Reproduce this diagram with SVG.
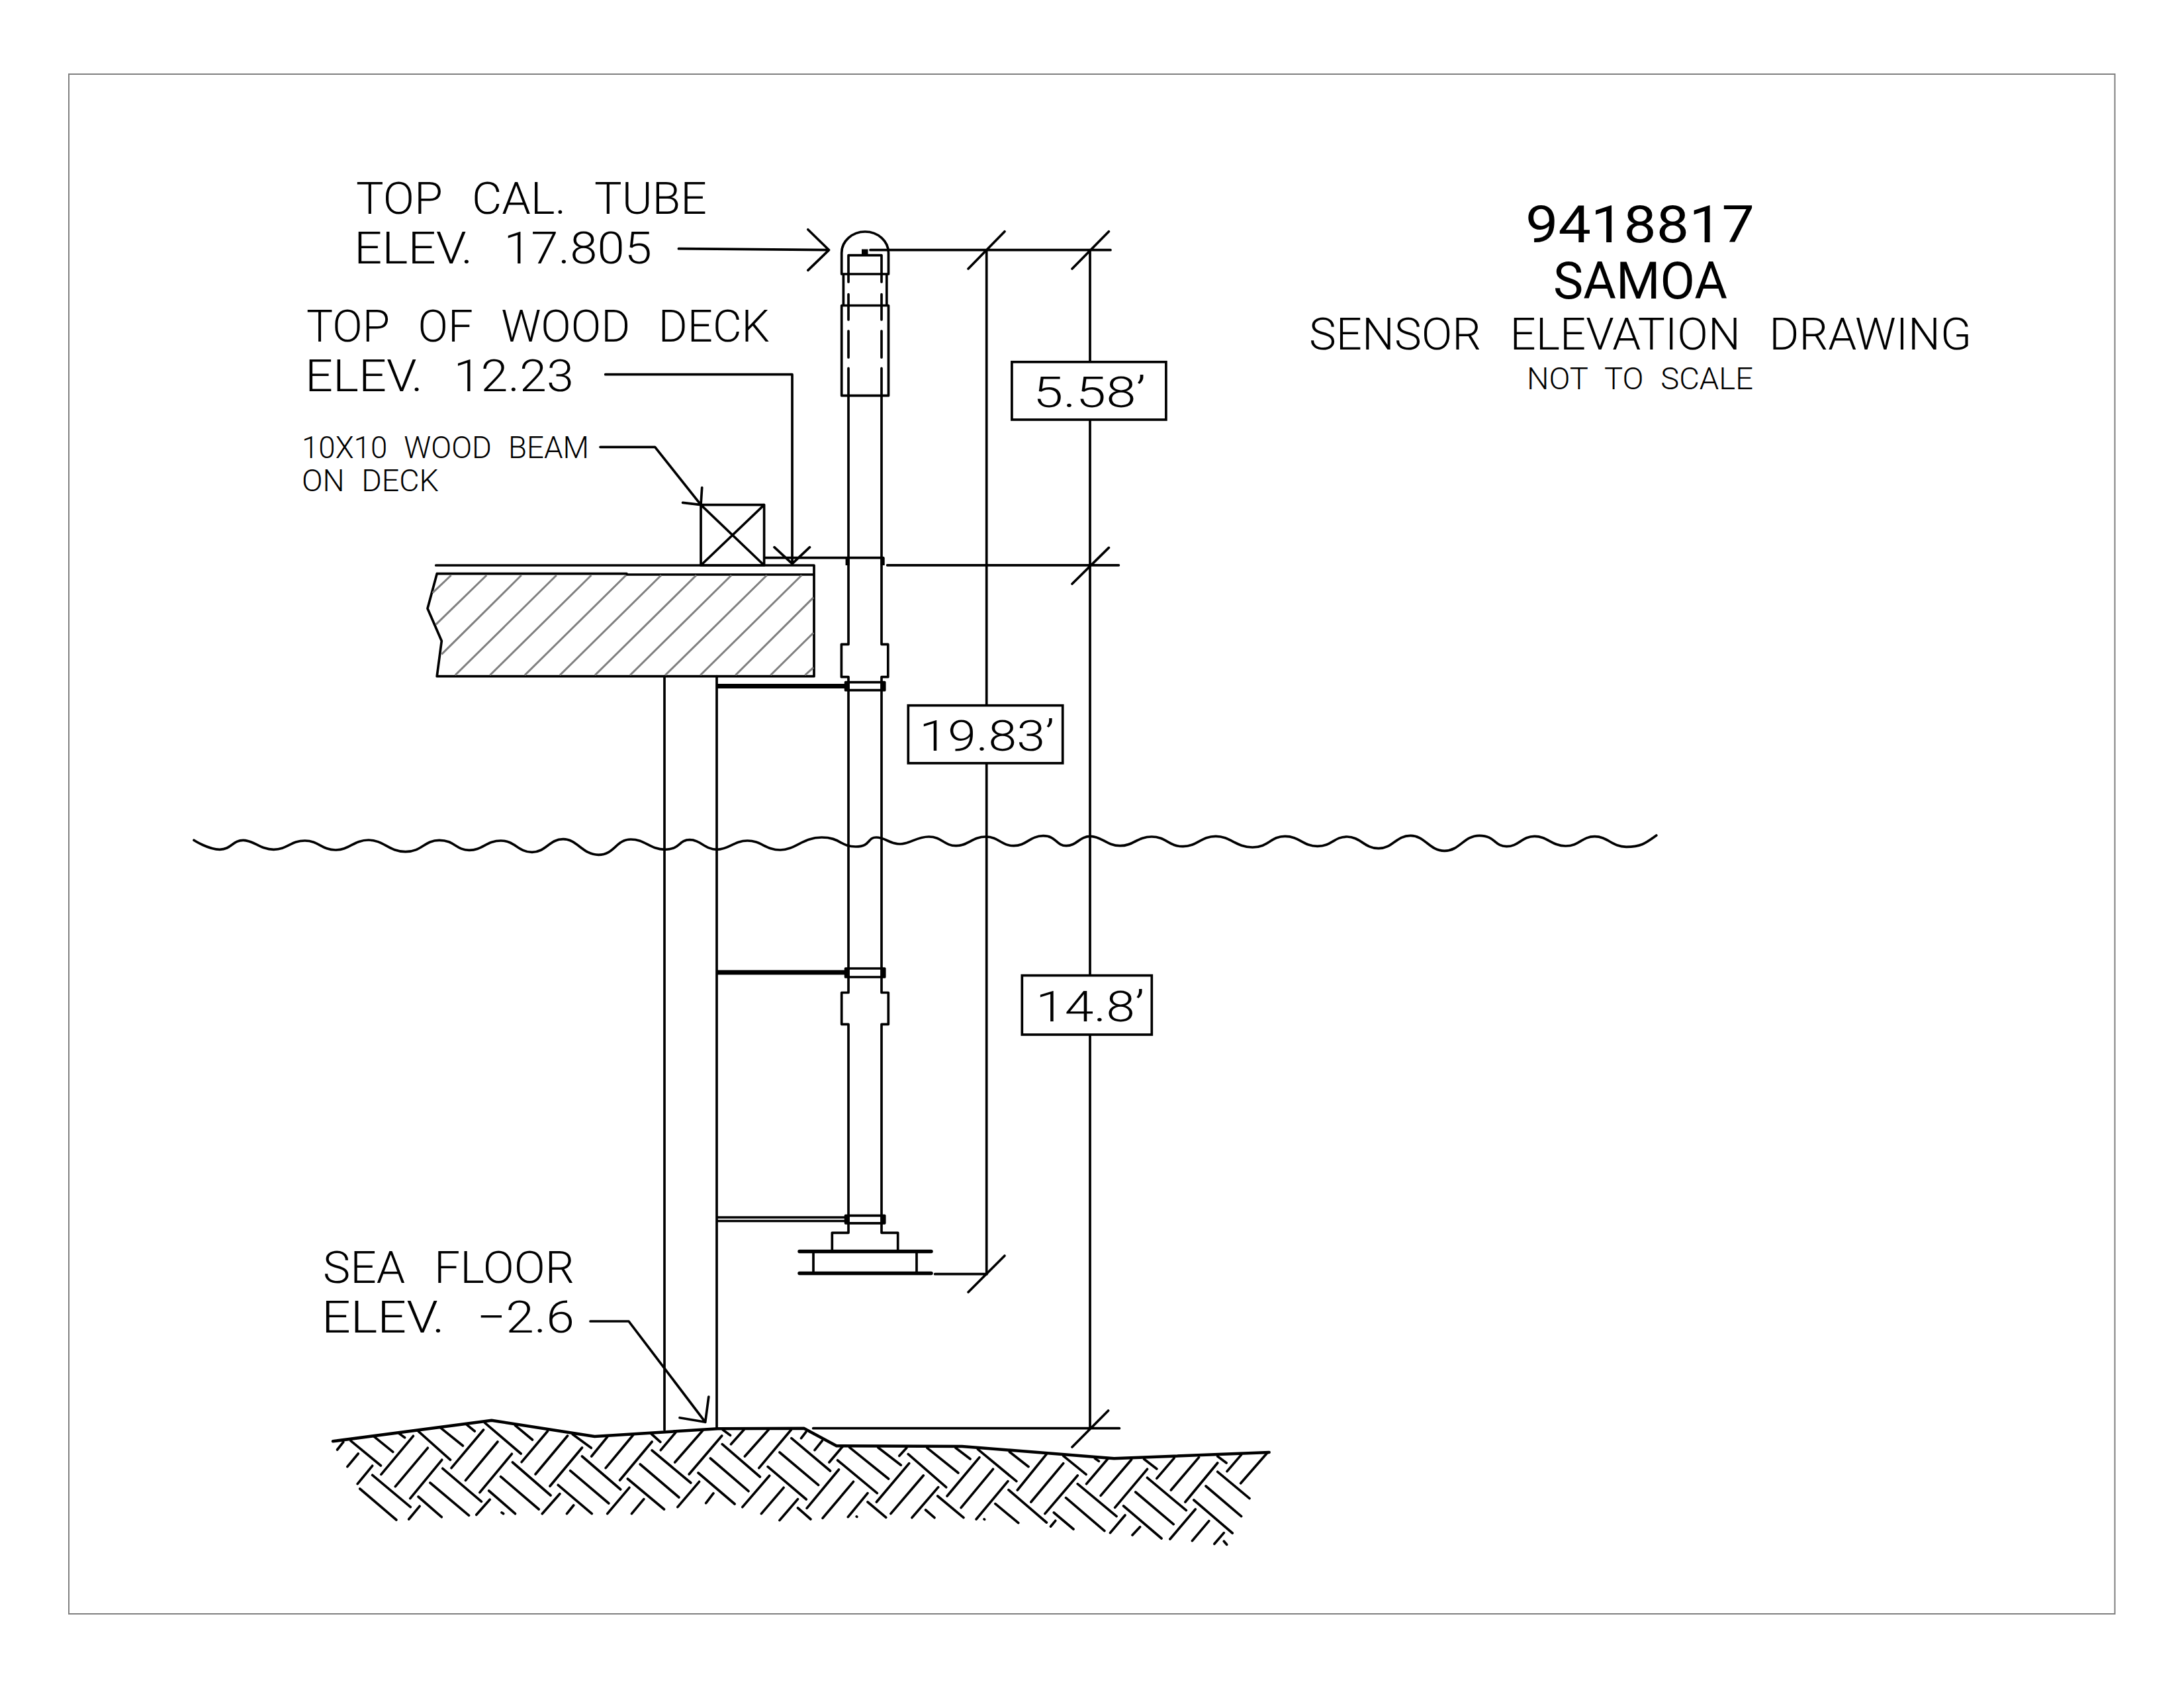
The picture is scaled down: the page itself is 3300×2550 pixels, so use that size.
<svg xmlns="http://www.w3.org/2000/svg" width="3300" height="2550" viewBox="0 0 3300 2550">
<style>
.l{fill:none;stroke:#000;stroke-width:3.700;stroke-linecap:round;stroke-linejoin:round}
.h{fill:none;stroke:#000;stroke-width:3.700;stroke-linecap:round;vector-effect:non-scaling-stroke}
.g{fill:none;stroke:#808080;stroke-width:3;vector-effect:non-scaling-stroke}
.k{fill:#000;stroke:none}
.box{fill:#fff;stroke:#000;stroke-width:3.700}
text{font-family:"Roboto","Liberation Sans",sans-serif;font-weight:300;fill:#000}
.a{font-size:67px;word-spacing:26px}
.b{font-size:46px;word-spacing:14px}
.c{font-size:65px}
.t{font-size:78px;font-weight:400}
</style>
<rect id="frame" x="104" y="112" width="3091.500" height="2326" fill="none" stroke="#808080" stroke-width="2"/>
<g id="water"><path class="l" d="M293 1269.300S314.500 1283.300 332 1283.300S351.600 1269.300 367.600 1269.300S392.800 1283.300 413.500 1283.300S439.400 1270 460.600 1270S486 1284 507 1284S534.500 1269 557 1269S587.600 1286.700 612.700 1286.700S640.800 1269.300 663.800 1269.300S689 1284.300 709 1284.300S735.300 1270 756.800 1270S782.700 1287.300 803.900 1287.300S829.800 1267.700 851 1267.700S880.300 1291.300 904.300 1291.300S931 1268 953 1268S981.500 1283.300 1004.800 1283.300S1025.300 1268.700 1042 1268.700S1064.800 1283.300 1083.400 1283.300S1108.700 1270 1129.400 1270S1156.700 1284 1179 1284S1213.400 1265 1241.500 1265S1269.800 1279 1292.900 1279S1310 1265 1324 1265S1343.700 1275 1359.800 1275S1383.900 1264 1403.600 1264S1426.200 1277.700 1444.600 1277.700S1469.200 1264 1489.300 1264S1512.600 1277.700 1531.700 1277.700S1556.200 1262.700 1576.300 1262.700S1595.500 1277.700 1611.200 1277.700S1631.300 1263.300 1647.800 1263.300S1672.300 1277.700 1692.400 1277.700S1718.700 1264 1740.200 1264S1766.200 1278.700 1787.500 1278.700S1814.700 1263.300 1837 1263.300S1867.500 1280 1892.500 1280S1919.500 1263.300 1941.600 1263.300S1968.600 1278.300 1990.700 1278.300S2015.300 1264 2035.400 1264S2061.600 1281.700 2083 1281.700S2109.600 1262.300 2131.300 1262.300S2159.600 1285.300 2182.700 1285.300S2211.700 1262.300 2235.400 1262.300S2258 1278.700 2276.400 1278.700S2299.700 1263.300 2318.800 1263.300S2344.600 1278 2365.700 1278S2389.800 1263.700 2409.500 1263.700S2435.800 1279.300 2457.300 1279.300S2485 1275 2502.800 1262"/></g>
<g id="deck">
<path class="l" d="M658.700 854H1230M660.200 866.700H947M947 868H1230M1230 854V1021.700H660.200L667.300 968.300L646 919.300L660.200 866.700"/>
<g transform="translate(600 720) scale(.5102 .33333)"><path class="g" d="M105 527L160 447M115 670L265 447M132 805L368 447M172 900L472 447M275 900L575 447M378 900L678 447M482 900L782 447M586 900L886 447M690 900L990 447M794 900L1095 447M898 900L1198 447M1002 900L1233 548M1106 900L1233 708M1208 900L1233 865"/></g>
</g>
<g id="wood-beam"><path class="l" d="M1059 762.700H1154.600V854H1059ZM1059 762.700L1154.600 854M1154.600 762.700L1059 854"/></g>
<g id="pile"><path class="l" d="M1004 1021.700V2160M1083 1021.700V2157.500"/></g>
<g id="supports">
<path class="l" style="stroke-width:7;stroke-linecap:butt" d="M1083.700 1036.500H1277.600M1083.700 1469H1277.600"/>
<path class="l" d="M1083.700 1839H1277.600M1083.700 1844.500H1277.600"/>
</g>
<g id="tide-gauge">
<path class="l" d="M1271.700 414V382A35.400 32 0 0 1 1342.500 382V414ZM1282 414V385.700H1332V414M1274.400 414V461.500M1339.800 414V461.500M1271.700 461.500H1342.500V597.700H1271.700Z"/>
<rect class="k" x="1302" y="376.500" width="9.500" height="9.200"/>
<path class="l" d="M1282 414V426M1282 444.700V483M1282 500V540M1282 556.400V597.700M1332 414V426M1332 444.700V483M1332 500V540M1332 556.400V597.700"/>
<path class="l" d="M1282 597.700V973.300H1271.400V1022.700H1282V1499.500H1271.700V1547.300H1282V1862.300H1257.300V1890.600M1332 597.700V973.300H1341.800V1022.700H1332V1499.500H1342.300V1547.300H1332V1862.300H1356.700V1890.600"/>
<path class="l" d="M1156 842.700H1334.700M1277.600 1030.700H1336.700V1042.700H1277.600ZM1277.600 1463H1336.700V1476H1277.600ZM1277.600 1836.300H1336.700V1847.800H1277.600Z"/>
<g class="k"><rect x="1277.600" y="842.700" width="6.100" height="11.300"/><rect x="1330.600" y="842.700" width="6.100" height="11.300"/><rect x="1277.600" y="1030.700" width="6.100" height="12"/><rect x="1330.600" y="1030.700" width="6.100" height="12"/><rect x="1277.600" y="1463" width="6.100" height="13"/><rect x="1330.600" y="1463" width="6.100" height="13"/><rect x="1277.600" y="1836.300" width="6.100" height="11.500"/><rect x="1330.600" y="1836.300" width="6.100" height="11.500"/></g>
<path class="l" style="stroke-width:5.500" d="M1208 1890.600H1407M1208 1923.500H1407"/>
<path class="l" d="M1229 1890.600V1923.500M1385 1890.600V1923.500"/>
</g>
<g id="sea-floor">
<path class="l" style="stroke-width:4.500" d="M503 2177.300L742.800 2145.700L898.400 2170L1084.600 2158.300L1214.700 2157.700L1264 2184.300L1453.600 2185L1683.300 2203.300L1917.700 2194"/>
<g transform="translate(480 2080) scale(.5102 .33333)"><path class="h" d="M58 330L76 295M88 407L120 348M118 485L162 403M188 442L283 268M230 497L326 322M274 551L368 376M270 645L302 586M396 413L491 240M438 469L533 294M480 524L575 349M470 625L510 556M604 386L681 246M645 441L740 267M688 495L783 321M665 620L717 530M738 620L758 582M811 360L858 272M853 413L934 264M895 468L990 294M858 620L923 502M930 620L966 554M1016 332L1060 252M1058 387L1140 244M1100 441L1197 267M1066 590L1130 475M1150 572L1172 528M1224 305L1262 240M1265 360L1335 240M1307 413L1402 240M1258 590L1338 448M1314 620L1380 502M1368 650L1422 554M1432 278L1446 250M1472 332L1494 290M1515 387L1555 315M98 290L187 402M168 272L223 340M240 255L258 275M297 245L393 376M365 232L430 312M440 215L465 246M495 208L602 348M585 220L636 285M755 260L810 322M988 258L1015 295M162 445L275 590M125 507L233 648M298 543L367 635M333 480L448 628M370 415L485 565M507 516L585 620M542 452L655 600M577 387L690 537M712 490L812 620M748 425L862 573M783 360L897 510M918 462L1026 600M955 396L1070 546M990 333L1105 480M1127 435L1235 576M1163 369L1276 518M1198 305L1310 453M1200 240L1222 265M1333 407L1447 555M1368 342L1483 490M1403 278L1518 426M1422 594L1460 645M545 615L550 620"/></g>
<g transform="translate(1200 2080) scale(.47847 .33333)"><path class="h" d="M40 595L141 420M90 640L187 475M170 635L232 527M260 567L363 392M305 620L408 447M372 638L455 500M332 358L355 322M483 540L585 365M527 593L628 418M575 645L675 473M705 513L797 350M748 567L850 392M792 620L895 447M810 678L825 652M923 485L990 372M968 538L1065 375M1013 592L1115 418M998 707L1045 627M1068 717L1092 680M1145 460L1200 368M1190 513L1278 365M1235 567L1337 390M1187 735L1267 600M1257 743L1310 653M1327 757L1357 707M1367 428L1412 353M1410 482L1495 343M137 378L262 527M175 320L298 462M265 320L337 400M232 567L290 637M360 350L480 500M420 322L518 435M415 603L443 638M453 540L535 638M510 322L556 372M580 328L702 473M680 340L740 407M635 575L708 662M677 512L797 660M820 615L882 690M858 548L980 698M895 485L1018 632M850 358L922 442M950 370L962 382M1040 585L1160 732M1078 522L1198 668M1115 457L1238 605M1105 373L1145 417M1337 360L1365 390M1262 558L1384 708M1300 495L1412 632M1337 430L1438 551M1357 745L1366 760M197 633L198 634M600 645L601 646"/></g>
</g>
<g id="connectors">
<path class="l" d="M1025.400 375.700L1252.600 377.700M1220.800 346.700L1252.600 377.700L1220.800 408.300"/>
<path class="l" d="M1315 377.700H1678M1463 406L1518 349.700M1620 406L1675.400 349.700"/>
<path class="l" d="M1490.700 377.700V1924.700M1647 377.700V2157.700"/>
<path class="l" d="M1340.600 853.800H1690.400M1620 882L1675.400 827.400"/>
<path class="l" d="M1412.700 1924.700H1491M1463 1952L1518 1897"/>
<path class="l" d="M1228.700 2157.700H1691.400M1620 2186L1674.600 2131"/>
<path class="l" d="M914.700 565.700H1197V851.700M1170 826.700L1197 851.700L1223.500 826.700"/>
<path class="l" d="M907 675.300H989.700L1059 762.700M1060.700 736.700L1059 762.700L1031.600 759.300"/>
<path class="l" d="M892 1996H950L1065.700 2148.300M1070.800 2110L1065.700 2148.300L1027 2141.700"/>
</g>
<g id="dim-5-58"><rect class="box" x="1528.900" y="546.800" width="233" height="87.200"/><text class="c" x="1561" y="614.600" textLength="170" lengthAdjust="spacingAndGlyphs">5.58’</text></g>
<g id="dim-19-83"><rect class="box" x="1372.300" y="1065.700" width="233.400" height="87.200"/><text class="c" x="1389" y="1133.600" textLength="204" lengthAdjust="spacingAndGlyphs">19.83’</text></g>
<g id="dim-14-8"><rect class="box" x="1544.300" y="1473.600" width="196" height="89.400"/><text class="c" x="1565" y="1542.900" textLength="164" lengthAdjust="spacingAndGlyphs">14.8’</text></g>
<g id="label-cal-tube"><text class="a" x="538" y="323.300" textLength="530" lengthAdjust="spacingAndGlyphs">TOP CAL. TUBE</text><text class="a" x="535" y="398.300" textLength="450" lengthAdjust="spacingAndGlyphs">ELEV. 17.805</text></g>
<g id="label-deck"><text class="a" x="463" y="515.700" textLength="700" lengthAdjust="spacingAndGlyphs">TOP OF WOOD DECK</text><text class="a" x="461" y="590.700" textLength="406" lengthAdjust="spacingAndGlyphs">ELEV. 12.23</text></g>
<g id="label-beam"><text class="b" x="456" y="691.700" textLength="434" lengthAdjust="spacingAndGlyphs">10X10 WOOD BEAM</text><text class="b" x="456" y="741.700" textLength="207" lengthAdjust="spacingAndGlyphs">ON DECK</text></g>
<g id="label-floor"><text class="a" x="488" y="1938.300" textLength="380" lengthAdjust="spacingAndGlyphs">SEA FLOOR</text><text class="a" x="486" y="2013" textLength="382" lengthAdjust="spacingAndGlyphs">ELEV. −2.6</text></g>
<g id="title"><text class="t" x="2305" y="365.700" textLength="346" lengthAdjust="spacingAndGlyphs">9418817</text><text class="t" x="2347" y="451" textLength="263" lengthAdjust="spacingAndGlyphs">SAMOA</text><text class="a" x="1978" y="528.300" textLength="1001" lengthAdjust="spacingAndGlyphs">SENSOR ELEVATION DRAWING</text><text class="b" x="2307" y="588.300" textLength="342" lengthAdjust="spacingAndGlyphs">NOT TO SCALE</text></g>
</svg>
